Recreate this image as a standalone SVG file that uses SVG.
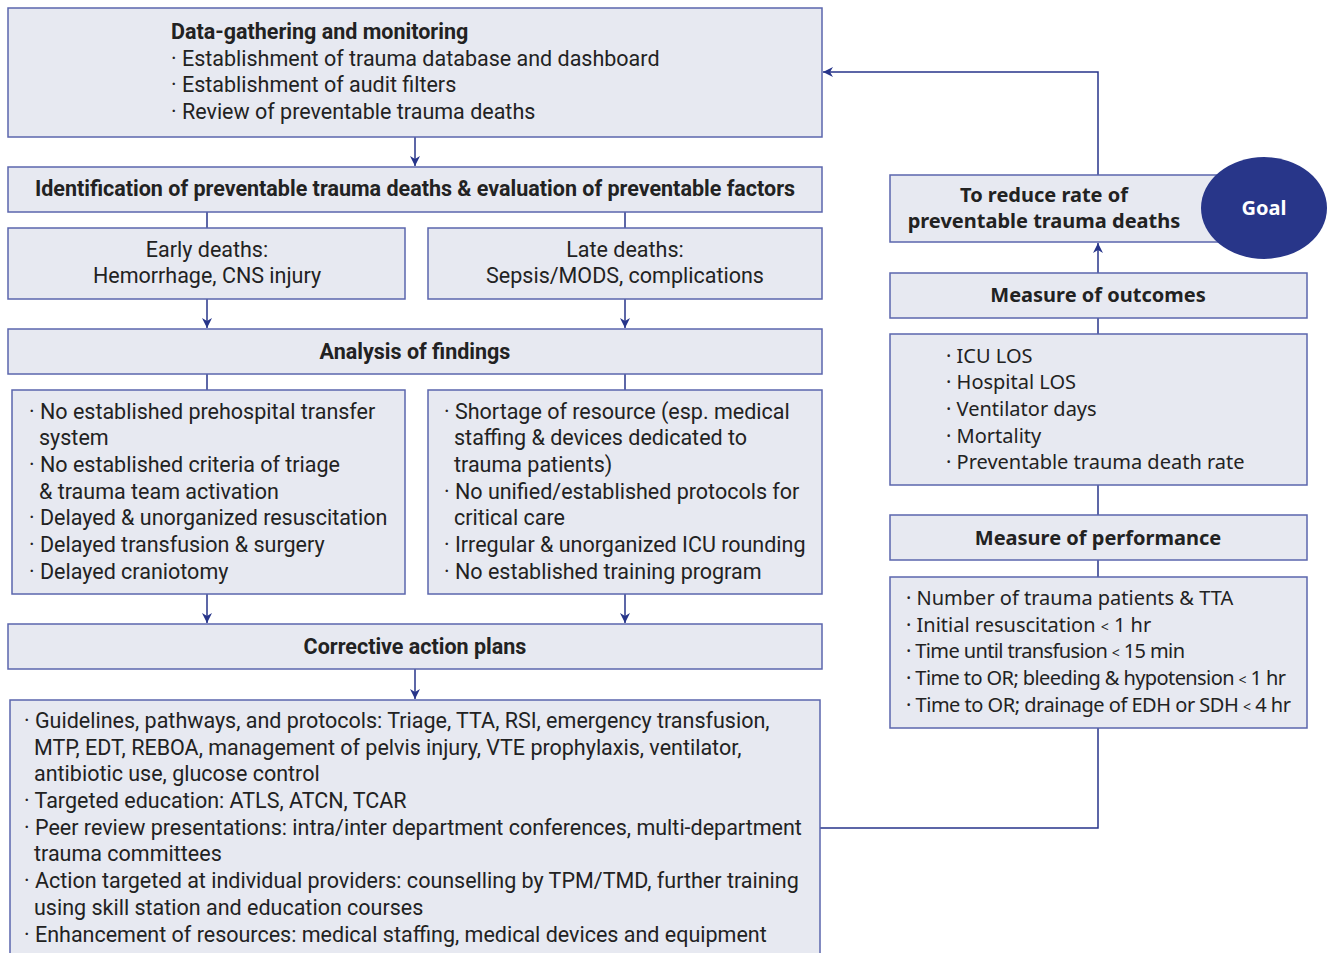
<svg xmlns="http://www.w3.org/2000/svg" width="1328" height="953" viewBox="0 0 1328 953">
<defs>
<marker id="ah" viewBox="0 0 10 10" refX="10" refY="5" markerWidth="10" markerHeight="10" markerUnits="userSpaceOnUse" orient="auto">
<path d="M0,0 L10,5 L0,10 L3,5 Z" fill="#27358a"/>
</marker>
<style>
.box{fill:#e7e9f1;stroke:#5b66ad;stroke-width:1.5}
.t{font-family:Roboto,"Liberation Sans",sans-serif;font-size:21.5px;fill:#222}
.r{font-family:"Noto Sans","Liberation Sans",sans-serif;font-size:20px;fill:#222}
.b{font-weight:bold}
.c{text-anchor:middle}
.lt{font-size:14px}
.ln{fill:none;stroke:#27358a;stroke-width:1.5}
</style>
</defs>
<rect width="1328" height="953" fill="#fff"/>
<g id="connectors">
<line class="ln" x1="415" y1="137" x2="415" y2="166" marker-end="url(#ah)"/>
<line class="ln" x1="207" y1="212" x2="207" y2="228"/>
<line class="ln" x1="625" y1="212" x2="625" y2="228"/>
<line class="ln" x1="207" y1="299" x2="207" y2="328" marker-end="url(#ah)"/>
<line class="ln" x1="625" y1="299" x2="625" y2="328" marker-end="url(#ah)"/>
<line class="ln" x1="207" y1="374" x2="207" y2="390"/>
<line class="ln" x1="625" y1="374" x2="625" y2="390"/>
<line class="ln" x1="207" y1="594" x2="207" y2="623" marker-end="url(#ah)"/>
<line class="ln" x1="625" y1="594" x2="625" y2="623" marker-end="url(#ah)"/>
<line class="ln" x1="415" y1="669" x2="415" y2="699" marker-end="url(#ah)"/>
<polyline class="ln" points="820,828 1098,828 1098,728"/>
<line class="ln" x1="1098" y1="577" x2="1098" y2="560"/>
<line class="ln" x1="1098" y1="515" x2="1098" y2="485"/>
<line class="ln" x1="1098" y1="334" x2="1098" y2="318"/>
<line class="ln" x1="1098" y1="273" x2="1098" y2="243" marker-end="url(#ah)"/>
<polyline class="ln" points="1098,175 1098,72 823,72" marker-end="url(#ah)"/>
</g>
<g id="data-gathering">
<rect class="box" x="8" y="8" width="814" height="129"/>
<text class="t b" x="171" y="39">Data-gathering and monitoring</text>
<text class="t" x="171" y="66">· Establishment of trauma database and dashboard</text>
<text class="t" x="171" y="92">· Establishment of audit filters</text>
<text class="t" x="171" y="119">· Review of preventable trauma deaths</text>
</g>
<g id="identification">
<rect class="box" x="8" y="167" width="814" height="45"/>
<text class="t b c" x="415" y="196">Identification of preventable trauma deaths &amp; evaluation of preventable factors</text>
</g>
<g id="early-deaths">
<rect class="box" x="8" y="228" width="397" height="71"/>
<text class="t c" x="207" y="257">Early deaths:</text>
<text class="t c" x="207" y="283">Hemorrhage, CNS injury</text>
</g>
<g id="late-deaths">
<rect class="box" x="428" y="228" width="394" height="71"/>
<text class="t c" x="625" y="257">Late deaths:</text>
<text class="t c" x="625" y="283">Sepsis/MODS, complications</text>
</g>
<g id="analysis">
<rect class="box" x="8" y="329" width="814" height="45"/>
<text class="t b c" x="415" y="359">Analysis of findings</text>
</g>
<g id="findings-left">
<rect class="box" x="12" y="390" width="393" height="204"/>
<text class="t" x="29" y="419">· No established prehospital transfer</text>
<text class="t" x="39" y="445">system</text>
<text class="t" x="29" y="472">· No established criteria of triage</text>
<text class="t" x="39" y="499">&amp; trauma team activation</text>
<text class="t" x="29" y="525">· Delayed &amp; unorganized resuscitation</text>
<text class="t" x="29" y="552">· Delayed transfusion &amp; surgery</text>
<text class="t" x="29" y="579">· Delayed craniotomy</text>
</g>
<g id="findings-right">
<rect class="box" x="428" y="390" width="394" height="204"/>
<text class="t" x="444" y="419">· Shortage of resource (esp. medical</text>
<text class="t" x="454" y="445">staffing &amp; devices dedicated to</text>
<text class="t" x="454" y="472">trauma patients)</text>
<text class="t" x="444" y="499">· No unified/established protocols for</text>
<text class="t" x="454" y="525">critical care</text>
<text class="t" x="444" y="552">· Irregular &amp; unorganized ICU rounding</text>
<text class="t" x="444" y="579">· No established training program</text>
</g>
<g id="corrective">
<rect class="box" x="8" y="624" width="814" height="45"/>
<text class="t b c" x="415" y="654">Corrective action plans</text>
</g>
<g id="actions">
<rect class="box" x="10" y="700" width="810" height="270"/>
<text class="t" x="24" y="728">· Guidelines, pathways, and protocols: Triage, TTA, RSI, emergency transfusion,</text>
<text class="t" x="34" y="755">MTP, EDT, REBOA, management of pelvis injury, VTE prophylaxis, ventilator,</text>
<text class="t" x="34" y="781">antibiotic use, glucose control</text>
<text class="t" x="24" y="808">· Targeted education: ATLS, ATCN, TCAR</text>
<text class="t" x="24" y="835">· Peer review presentations: intra/inter department conferences, multi-department</text>
<text class="t" x="34" y="861">trauma committees</text>
<text class="t" x="24" y="888">· Action targeted at individual providers: counselling by TPM/TMD, further training</text>
<text class="t" x="34" y="915">using skill station and education courses</text>
<text class="t" x="24" y="942">· Enhancement of resources: medical staffing, medical devices and equipment</text>
</g>
<g id="goal">
<rect class="box" x="890" y="175" width="340" height="67"/>
<text class="r b c" x="1044" y="202">To reduce rate of</text>
<text class="r b c" x="1044" y="228">preventable trauma deaths</text>
<ellipse cx="1264" cy="208" rx="63" ry="51" fill="#283689"/>
<text class="r b c" x="1264" y="215" style="fill:#fff">Goal</text>
</g>
<g id="measure-outcomes">
<rect class="box" x="890" y="273" width="417" height="45"/>
<text class="r b c" x="1098" y="302">Measure of outcomes</text>
</g>
<g id="outcomes">
<rect class="box" x="890" y="334" width="417" height="151"/>
<text class="r" x="946" y="363">· ICU LOS</text>
<text class="r" x="946" y="389">· Hospital LOS</text>
<text class="r" x="946" y="416">· Ventilator days</text>
<text class="r" x="946" y="443">· Mortality</text>
<text class="r" x="946" y="469">· Preventable trauma death rate</text>
</g>
<g id="measure-performance">
<rect class="box" x="890" y="515" width="417" height="45"/>
<text class="r b c" x="1098" y="545">Measure of performance</text>
</g>
<g id="performance">
<rect class="box" x="890" y="577" width="417" height="151"/>
<text class="r" x="906" y="605">· Number of trauma patients &amp; TTA</text>
<text class="r" x="906" y="632">· Initial resuscitation <tspan class="lt">&lt;</tspan> 1 hr</text>
<text class="r" x="906" y="658" textLength="279" lengthAdjust="spacing">· Time until transfusion <tspan class="lt">&lt;</tspan> 15 min</text>
<text class="r" x="906" y="685" textLength="380" lengthAdjust="spacing">· Time to OR; bleeding &amp; hypotension <tspan class="lt">&lt;</tspan> 1 hr</text>
<text class="r" x="906" y="712" textLength="385" lengthAdjust="spacing">· Time to OR; drainage of EDH or SDH <tspan class="lt">&lt;</tspan> 4 hr</text>
</g>
</svg>
